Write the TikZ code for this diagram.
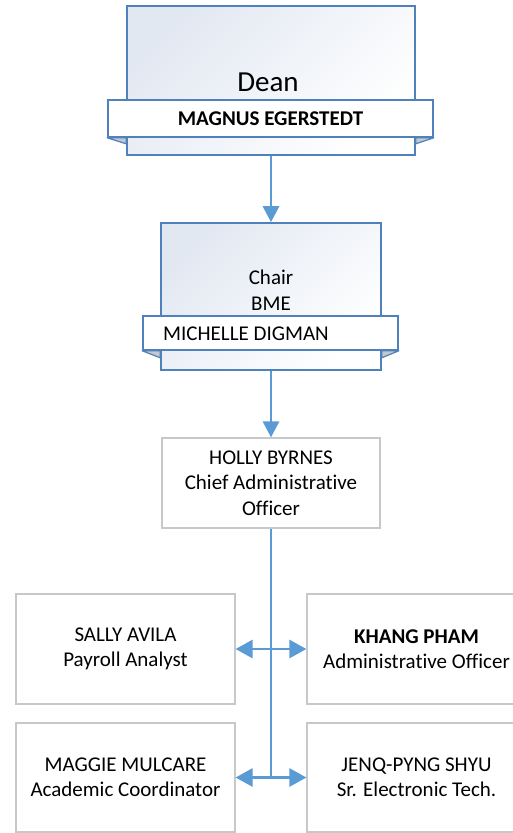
\documentclass[tikz,border=0pt]{standalone}
\usepackage{fontspec}
\setmainfont[Ligatures=NoCommon]{Carlito}
\usetikzlibrary{arrows.meta}
\definecolor{lineblue}{HTML}{5B9BD5}
\definecolor{boxblue}{HTML}{4F81BD}
\definecolor{shadeblue}{HTML}{E2E8F2}
\definecolor{foldgray}{HTML}{C3C7CE}
\definecolor{graybord}{HTML}{C8C8C8}
\begin{document}
\begin{tikzpicture}[x=1pt,y=-1pt,
  topbox/.style={draw=boxblue, line width=1.6pt, top color=shadeblue, bottom color=white, shading angle=45, inner sep=0pt},
  banner/.style={draw=boxblue, line width=1.6pt, fill=white, inner sep=0pt},
  fold/.style={draw=boxblue, line width=1.2pt, fill=foldgray, line join=round},
  plainbox/.style={draw=graybord, line width=1.2pt, fill=white, inner sep=0pt, align=center,
    font=\fontsize{21}{25.5}\selectfont},
  txt/.style={inner sep=0pt, font=\fontsize{21}{26}\selectfont, align=center},
  conn/.style={draw=lineblue, line width=2.8pt},
  arr/.style={conn, -{Triangle[length=16pt,width=16pt]}},
  darr/.style={conn, {Triangle[length=17pt,width=18pt]}-{Triangle[length=17pt,width=18pt]}}
]
\clip (0,0) rectangle (513,833);
\fill[white] (0,0) rectangle (513,833);

% Dean
\node[topbox, minimum width=288pt, minimum height=149pt] (dean) at (271,80.5) {};
\node[inner sep=0pt, font=\fontsize{29}{33}\selectfont] (deantxt) at (268,82.5) {Dean};
\node[banner, minimum width=325pt, minimum height=37pt, font=\fontsize{21}{25}\selectfont\bfseries] (dname) at (270.5,118.5) {MAGNUS EGERSTEDT};
\filldraw[fold] (dname.south west) -- (dname.south west -| dean.west) -- ([yshift=-6pt]dname.south west -| dean.west) -- cycle;
\filldraw[fold] (dname.south east) -- (dname.south east -| dean.east) -- ([yshift=-6pt]dname.south east -| dean.east) -- cycle;

% Chair
\node[topbox, minimum width=220pt, minimum height=147pt] (chair) at (271,296.5) {};
\node[txt] (chairtxt) at (271,290) {Chair\\BME};
\node[banner, minimum width=255pt, minimum height=34pt] (cname) at (270.5,333) {};
\node[inner sep=0pt, anchor=west, font=\fontsize{21}{25}\selectfont] (cnametxt) at (163,334) {MICHELLE DIGMAN};
\filldraw[fold] (cname.south west) -- (cname.south west -| chair.west) -- ([yshift=-7pt]cname.south west -| chair.west) -- cycle;
\filldraw[fold] (cname.south east) -- (cname.south east -| chair.east) -- ([yshift=-7pt]cname.south east -| chair.east) -- cycle;

% Holly
\node[plainbox, minimum width=218pt, minimum height=90pt] (holly) at (271,483) {HOLLY BYRNES\\Chief Administrative\\Officer};

% Lower boxes
\node[plainbox, minimum width=219pt, minimum height=110pt] (sally) at (125.5,649) {SALLY AVILA\\Payroll Analyst};
\node[plainbox, minimum width=219pt, minimum height=109pt] (maggie) at (125.5,777.5) {MAGGIE MULCARE\\Academic Coordinator};
\node[plainbox, minimum width=219pt, minimum height=110pt] (khang) at (416.5,649) {\textbf{KHANG PHAM}\\Administrative Officer};
\node[plainbox, minimum width=219pt, minimum height=109pt] (jenq) at (416.5,777.5) {JENQ-PYNG SHYU\\Sr. Electronic Tech.};

% Connectors
\draw[arr] (dean.south) -- (chair.north);
\draw[arr] (chair.south) -- (holly.north);
\coordinate (j1) at (holly.south |- sally.east);
\coordinate (j2) at (holly.south |- maggie.east);
\draw[conn] (holly.south) -- ([yshift=-1.4pt]j2);
\draw[darr] (sally.east) -- (khang.west);
\draw[darr] (maggie.east) -- (jenq.west);
\end{tikzpicture}
\end{document}
